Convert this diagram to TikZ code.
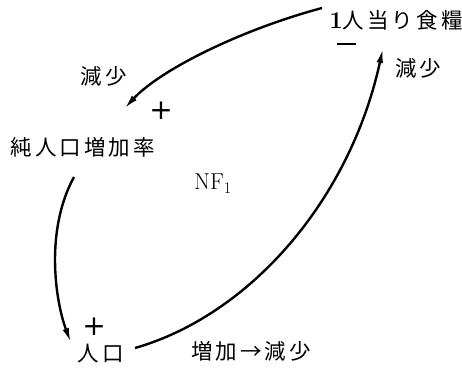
\documentclass[tikz,border=0pt]{standalone}
\usepackage{fontspec}
\newfontfamily\cjk[LetterSpace=14]{Noto Sans CJK JP}
\newfontfamily\symf{DejaVu Sans}
\usetikzlibrary{arrows.meta}
\begin{document}
\begin{tikzpicture}[x=1pt,y=-1pt,
  lbl/.style={inner sep=0pt,font=\cjk\fontsize{21.5}{24}\selectfont},
  sgn/.style={inner sep=0pt,font=\symf\fontsize{28}{30}\selectfont},
  link/.style={line width=2.4pt,-{Latex[length=15pt,width=6.5pt]}}]
\useasboundingbox (0,0) rectangle (462,367);
\node[lbl] (food) at (396,20) {{\fontsize{24}{26}\selectfont\rmfamily\bfseries 1}人当り食糧};
\node[lbl] (rate) at (83,147) {純人口増加率};
\node[lbl] (pop) at (101,354) {人口};
\node[inner sep=0pt,font=\fontsize{23}{26}\selectfont] (nf) at (213,184) {NF\textsubscript{1}};
\node[lbl] (d1) at (104,76) {減少};
\node[lbl] (d2) at (418,68) {減少};
\node[lbl] (d3) at (251,351) {増加→減少};
\node[sgn] (p1) at (161,111) {+};
\node[inner sep=0pt] (m1) at (346,44) {\rule{19pt}{2.6pt}};
\node[sgn] (p2) at (94,327) {+};
\coordinate (a1s) at (322,8);
\coordinate (a1e) at (124,109);
\coordinate (a2s) at (74,177);
\coordinate (a2e) at (71,343);
\coordinate (a3s) at (135,348);
\coordinate (a3e) at (383,48);
\draw[link] (a1s) .. controls (240,30) and (160,70) .. (a1e);
\draw[link] (a2s) .. controls (45,230) and (55,300) .. (a2e);
\draw[link] (a3s) .. controls (250,315) and (350,200) .. (a3e);
\end{tikzpicture}
\end{document}
